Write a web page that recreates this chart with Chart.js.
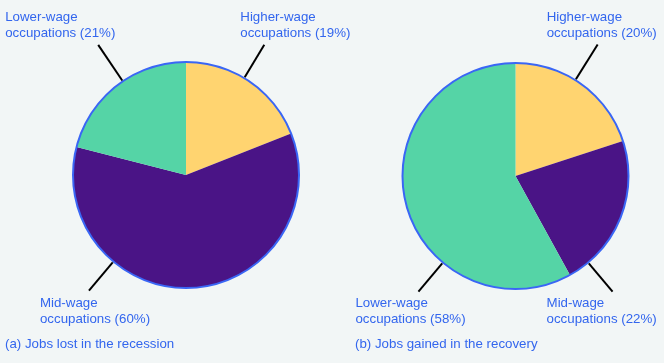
<!DOCTYPE html>
<html>
<head>
<meta charset="utf-8">
<script src="https://cdn.jsdelivr.net/npm/chart.js@4/dist/chart.umd.min.js"></script>
<style>
  html, body { margin: 0; padding: 0; background: #f2f6f6; }
  .wrap { position: absolute; top: 0; left: 0; width: 664px; height: 363px; }
</style>
</head>
<body>
<div class="wrap"><canvas id="lost"></canvas></div>
<div class="wrap"><canvas id="gained"></canvas></div>
<script>
// wage groups, same order in both pies (clockwise from 12 o'clock)
const categories = ['Higher-wage', 'Mid-wage', 'Lower-wage'];
const jobsLost = [19, 60, 21];
const jobsGained = [20, 22, 58];
const captions = ['(a) Jobs lost in the recession', '(b) Jobs gained in the recovery'];

const colors = ['#ffd470', '#4a1486', '#55d4a6'];
const blue = '#3366ee';
const FONT = '13.3px "Liberation Sans", Arial, sans-serif';

// leader line: angle in degrees clockwise from top, length past the rim,
// text offset (dx, dy to first baseline) from the outer end of the line
const lostLeaders = [
    { angle: 31, len: 39, dx: -24, dy: -24 },
    { angle: 220, len: 38, dx: -49, dy: 16 },
    { angle: 326, len: 44, dx: -93, dy: -24 }
];
const gainedLeaders = [
    { angle: 32, len: 42, dx: -51, dy: -24 },
    { angle: 140, len: 38, dx: -66, dy: 15 },
    { angle: 220, len: 38, dx: -63, dy: 15 }
];

const outlineAndLabels = {
    id: 'outlineAndLabels',
    afterDatasetsDraw(chart, args, opts) {
        const ctx = chart.ctx;
        const arc = chart.getDatasetMeta(0).data[0];
        const { x, y, outerRadius } = arc.getProps(['x', 'y', 'outerRadius'], true);
        const values = chart.data.datasets[0].data;

        ctx.save();
        // blue rim only round the outside
        ctx.beginPath();
        ctx.arc(x, y, outerRadius, 0, Math.PI * 2);
        ctx.strokeStyle = '#3a66f5';
        ctx.lineWidth = 2;
        ctx.stroke();

        ctx.font = FONT;
        ctx.textBaseline = 'alphabetic';
        ctx.textAlign = 'left';
        opts.leaders.forEach((l, i) => {
            const a = (l.angle - 90) * Math.PI / 180;
            const x0 = x + Math.cos(a) * (outerRadius + 1);
            const y0 = y + Math.sin(a) * (outerRadius + 1);
            const x1 = x + Math.cos(a) * (outerRadius + l.len);
            const y1 = y + Math.sin(a) * (outerRadius + l.len);
            ctx.beginPath();
            ctx.moveTo(x0, y0);
            ctx.lineTo(x1, y1);
            ctx.strokeStyle = '#000';
            ctx.lineWidth = 2;
            ctx.stroke();

            ctx.fillStyle = blue;
            ctx.fillText(chart.data.labels[i], x1 + l.dx, y1 + l.dy);
            ctx.fillText('occupations (' + values[i] + '%)', x1 + l.dx, y1 + l.dy + 16);
        });

        ctx.fillStyle = blue;
        ctx.fillText(opts.caption, opts.captionX, 348);
        ctx.restore();
    }
};

function makePie(id, values, leaders, caption, captionX, padding) {
    return new Chart(document.getElementById(id), {
        type: 'pie',
        data: {
            labels: categories,
            datasets: [{
                data: values,
                backgroundColor: colors,
                borderWidth: 0
            }]
        },
        options: {
            responsive: true,
            maintainAspectRatio: false,
            animation: false,
            layout: { padding: padding },
            plugins: {
                legend: { display: false },
                tooltip: { enabled: false },
                outlineAndLabels: { leaders: leaders, caption: caption, captionX: captionX }
            }
        },
        plugins: [outlineAndLabels]
    });
}

makePie('lost', jobsLost, lostLeaders, captions[0], 5,
    { top: 62, bottom: 75, left: 73, right: 365 });
makePie('gained', jobsGained, gainedLeaders, captions[1], 355,
    { top: 63, bottom: 74, left: 402.5, right: 35.5 });
</script>
</body>
</html>
